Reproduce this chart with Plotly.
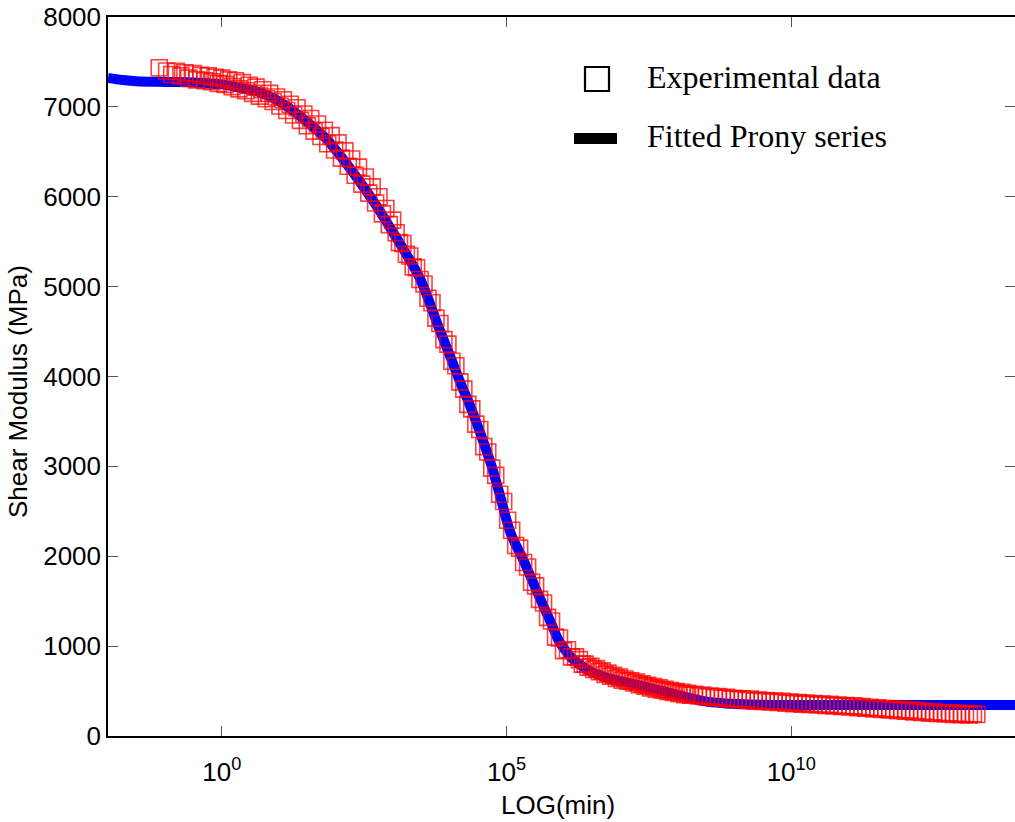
import numpy as np
import plotly.graph_objects as go

# ---- Fitted Prony series (log10 of time in min, shear modulus MPa)
fit_log10_t = [-2.0, -1.75, -1.5, -1.0, -0.5, 0.0, 0.3, 0.65, 0.95, 1.23, 1.5, 1.82, 2.1, 2.4,
               2.7, 2.98, 3.25, 3.49, 3.8, 4.0, 4.19, 4.35, 4.51, 4.74, 4.9, 5.07, 5.3, 5.6,
               5.8, 5.91, 6.05, 6.14, 6.3, 6.43, 6.72, 7.0, 7.32, 7.6, 7.89, 8.2, 8.49, 8.8,
               9.07, 9.5, 10.0, 11.0, 12.0, 13.0, 13.95]
fit_G = [7322, 7300, 7285, 7278, 7272, 7250, 7215, 7166, 7080, 6965, 6830, 6654, 6440, 6187,
         5915, 5630, 5350, 5074, 4560, 4240, 3930, 3690, 3420, 3000, 2640, 2259, 1950, 1513,
         1230, 1068, 940, 870, 790, 734, 656, 610, 567, 520, 478, 425, 385, 365,
         356, 348, 345, 345, 345, 345, 345]

# ---- Experimental data
exp_log10_t = [
    -1.10, -0.97, -0.88, -0.80, -0.72, -0.65, -0.58, -0.50, -0.44, -0.37, -0.30, -0.24, -0.18,
    -0.12, -0.06, 0.00, 0.06, 0.12, 0.18, 0.24, 0.30, 0.36, 0.42, 0.48, 0.54, 0.60, 0.66, 0.72,
    0.78, 0.84, 0.90, 0.96, 1.02, 1.08, 1.14, 1.20, 1.26, 1.32, 1.38, 1.44, 1.50, 1.56, 1.62,
    1.68, 1.74, 1.80, 1.86, 1.92, 1.98, 2.04, 2.10, 2.16, 2.22, 2.28, 2.34, 2.40, 2.46, 2.52,
    2.58, 2.64, 2.70, 2.76, 2.82, 2.88, 2.94, 3.00,
    3.06, 3.12, 3.18, 3.24, 3.30, 3.36, 3.42, 3.48, 3.55, 3.62, 3.69, 3.76, 3.83, 3.90, 3.97,
    4.04, 4.11, 4.18, 4.25, 4.32, 4.39, 4.46, 4.53, 4.60, 4.67, 4.74, 4.81, 4.88, 4.95, 5.02,
    5.09, 5.16, 5.23, 5.30, 5.37, 5.44, 5.51, 5.58, 5.65, 5.72, 5.79, 5.86, 5.93, 6.00, 6.07,
    6.14, 6.21,
    6.28, 6.33, 6.38, 6.43, 6.48, 6.53, 6.58, 6.63, 6.68, 6.73, 6.78, 6.83, 6.88, 6.93, 6.98,
    7.03, 7.08, 7.13, 7.18, 7.23, 7.28, 7.33, 7.38, 7.43, 7.48, 7.53, 7.58, 7.63, 7.68, 7.73,
    7.78, 7.83, 7.88, 7.93, 7.98, 8.03, 8.08, 8.13, 8.18, 8.23, 8.30, 8.37, 8.44, 8.51, 8.58,
    8.65, 8.72, 8.79, 8.86, 8.93, 9.00, 9.07, 9.14, 9.21, 9.28, 9.35, 9.42, 9.49, 9.56, 9.63,
    9.70, 9.77, 9.84, 9.91, 9.98, 10.05, 10.12, 10.19, 10.26, 10.33, 10.40, 10.47, 10.54,
    10.61, 10.68, 10.75, 10.82, 10.89, 10.96, 11.03, 11.10, 11.17, 11.24, 11.31, 11.38, 11.45,
    11.52, 11.59, 11.66, 11.73, 11.80, 11.87, 11.94, 12.01, 12.08, 12.15, 12.22, 12.29, 12.36,
    12.43, 12.50, 12.57, 12.64, 12.71, 12.78, 12.85, 12.92, 12.99, 13.06, 13.13, 13.20, 13.26]
exp_G = [
    7435, 7400, 7360, 7395, 7345, 7380, 7320, 7370, 7300, 7350, 7290, 7345, 7280,
    7330, 7260, 7320, 7250, 7300, 7225, 7290, 7200, 7270, 7180, 7240, 7150, 7220, 7120, 7190,
    7090, 7150, 7060, 7110, 7010, 7080, 6960, 7030, 6910, 6990, 6850, 6920, 6790, 6870, 6730,
    6810, 6670, 6740, 6590, 6680, 6520, 6600, 6430, 6510, 6340, 6420, 6240, 6330, 6140, 6220,
    6040, 6110, 5930, 6000, 5810, 5870, 5690, 5740,
    5600, 5490, 5480, 5360, 5340, 5220, 5210, 5080, 5030, 4870, 4820, 4650, 4590, 4410, 4360,
    4170, 4120, 3940, 3860, 3690, 3640, 3470, 3410, 3220, 3160, 2980, 2900, 2690, 2610, 2400,
    2290, 2120, 2090, 1930, 1880, 1710, 1670, 1520, 1480, 1320, 1280, 1100, 1090, 950, 960,
    880, 880,
    850, 800, 800, 765, 775, 740, 750, 715, 725, 685, 700, 665, 675, 640, 655,
    620, 635, 610, 615, 590, 600, 570, 580, 555, 565, 535, 550, 520, 535, 510,
    520, 495, 505, 485, 495, 470, 485, 460, 475, 455, 465, 445, 455, 435, 445,
    425, 440, 420, 430, 410, 420, 405, 415, 395, 410, 390, 400, 385, 395, 378,
    390, 372, 385, 365, 378, 360, 372, 355, 368, 350, 362, 345, 356,
    340, 352, 335, 345, 330, 340, 322, 335, 315, 328, 308, 320, 300,
    315, 295, 305, 290, 300, 282, 295, 275, 288, 268, 282, 262, 276,
    255, 270, 250, 262, 245, 258, 240, 252, 238, 250, 235, 248, 240]

x_tick_vals = [1, 1e5, 1e10]
x_tick_text = ["10<sup>0</sup>", "10<sup>5</sup>", "10<sup>10</sup>"]
y_tick_vals = [0, 1000, 2000, 3000, 4000, 5000, 6000, 7000, 8000]

fit_t = np.power(10.0, np.array(fit_log10_t))
exp_t = np.power(10.0, np.array(exp_log10_t))

fig = go.Figure()
fig.add_trace(go.Scatter(
    x=fit_t, y=fit_G, mode="lines", name="Fitted Prony series",
    line=dict(color="#0000FF", width=10, shape="spline"), showlegend=False))
fig.add_trace(go.Scatter(
    x=exp_t, y=exp_G, mode="markers", name="Experimental data",
    marker=dict(symbol="square-open", size=16, color="rgba(255,0,0,0.75)",
                line=dict(width=1.6, color="rgba(255,0,0,0.75)")),
    showlegend=False))

# legend drawn in paper coordinates
PL, PR, PT, PB = 108, 1015, 17, 736
def px(x):
    return (x - PL) / (PR - PL)
def py(y):
    return (PB - y) / (PB - PT)

fig.add_shape(type="rect", xref="paper", yref="paper",
              x0=px(585), x1=px(609), y0=py(91), y1=py(67),
              line=dict(color="black", width=2.2), fillcolor="rgba(0,0,0,0)")
fig.add_shape(type="rect", xref="paper", yref="paper",
              x0=px(574), x1=px(617), y0=py(144), y1=py(133),
              line=dict(width=0), fillcolor="black")
legend_font = dict(family="Liberation Serif, Times New Roman, serif", size=32, color="black")
fig.add_annotation(xref="paper", yref="paper", x=px(645), y=py(77), text="Experimental data",
                   showarrow=False, xanchor="left", yanchor="middle", font=legend_font)
fig.add_annotation(xref="paper", yref="paper", x=px(645), y=py(136), text="Fitted Prony series",
                   showarrow=False, xanchor="left", yanchor="middle", font=legend_font)

axis_font = dict(family="Liberation Sans, Arial, sans-serif", size=26, color="black")
title_font = dict(family="Liberation Sans, Arial, sans-serif", size=26, color="black")
fig.add_annotation(xref="paper", yref="paper", x=px(18), y=py(392), text="Shear Modulus (MPa)",
                   textangle=-90, showarrow=False, xanchor="center", yanchor="middle",
                   font=title_font)
fig.add_annotation(xref="paper", yref="paper", x=px(558), y=py(805), text="LOG(min)",
                   showarrow=False, xanchor="center", yanchor="middle", font=title_font)

fig.update_layout(
    width=1015, height=822,
    margin=dict(l=PL, r=1015 - PR, t=PT, b=822 - PB, autoexpand=False),
    paper_bgcolor="white", plot_bgcolor="white",
    font=axis_font,
    xaxis=dict(type="log", range=[-2.0, 13.93], tickvals=x_tick_vals, ticktext=x_tick_text,
               ticks="inside", ticklen=10, tickcolor="#555555", showgrid=False, zeroline=False,
               showline=True, linecolor="black", linewidth=1.5, mirror="ticks",
               ticklabelstandoff=12, automargin=False, tickfont=axis_font),
    yaxis=dict(range=[0, 8000], tickvals=y_tick_vals, ticks="inside", ticklen=10,
               tickcolor="#555555", showgrid=False, zeroline=False,
               showline=True, linecolor="black", linewidth=1.5, mirror="ticks",
               automargin=False, tickfont=axis_font),
)

fig.write_html("out.html")
